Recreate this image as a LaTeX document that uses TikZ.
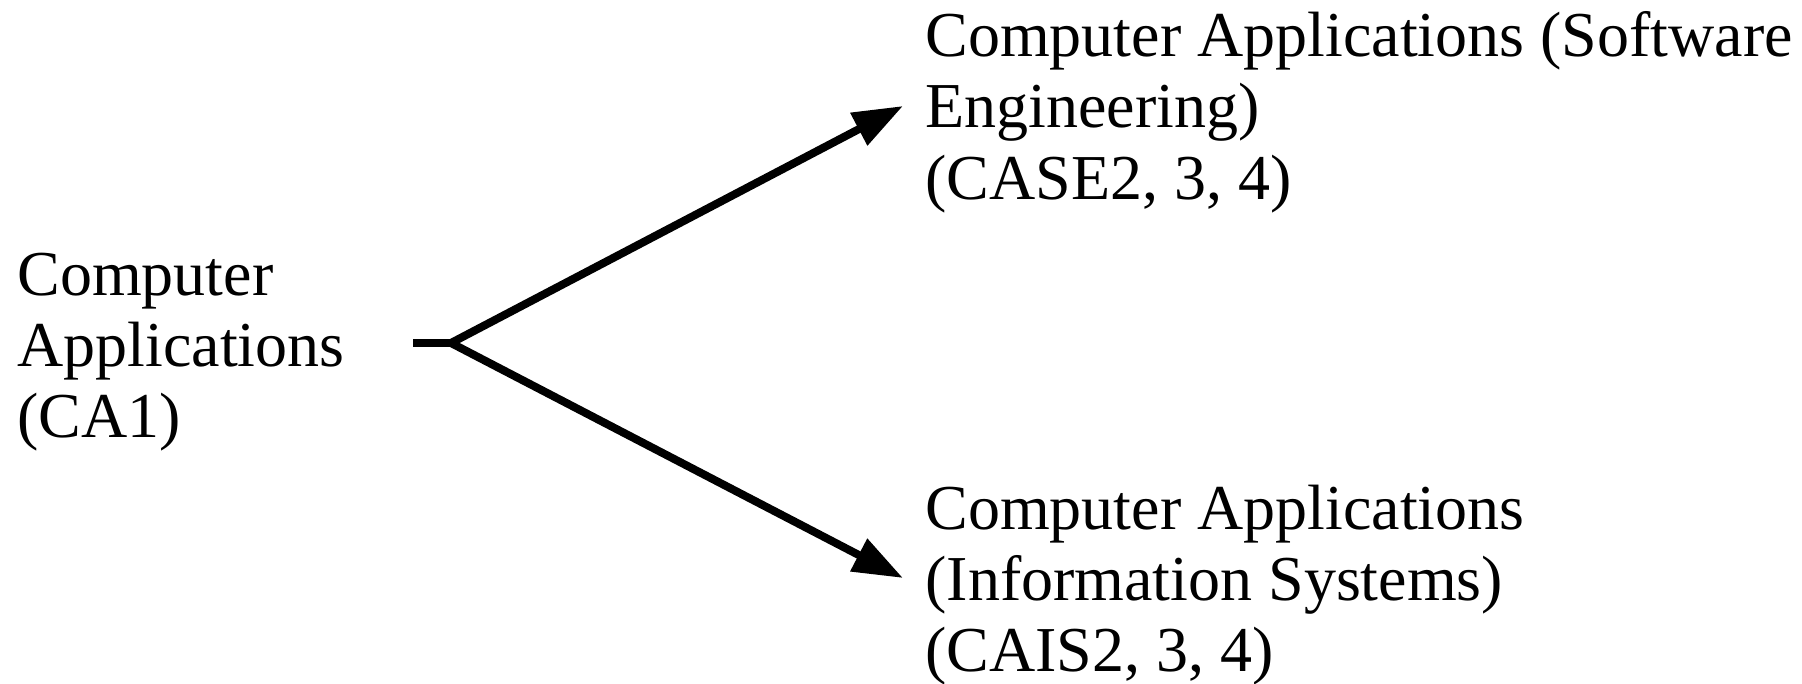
\documentclass[tikz,border=0pt]{standalone}
\usepackage{fontspec}
\setmainfont{Liberation Serif}
\usetikzlibrary{arrows.meta}
\begin{document}
\begin{tikzpicture}[x=0.5pt,y=-0.5pt,
  lbl/.style={anchor=base west, inner sep=0pt, font=\fontsize{32pt}{35.5pt}\selectfont},
  stub/.style={line width=4pt, line cap=butt},
  link/.style={line width=4pt, -{Triangle[length=25pt,width=17.5pt]}}]
\useasboundingbox (0,0) rectangle (1802,684);
% left block
\node[lbl] (ca1a) at (17,295) {Computer};
\node[lbl] (ca1b) at (17,366) {Applications};
\node[lbl] (ca1c) at (17,437) {(CA1)};
% upper right block
\node[lbl] (se1) at (925,57) {Computer Applications (Software};
\node[lbl] (se2) at (925,128) {Engineering)};
\node[lbl] (se3) at (925,199) {(CASE2, 3, 4)};
% lower right block
\node[lbl] (is1) at (925,529) {Computer Applications};
\node[lbl] (is2) at (925,600) {(Information Systems)};
\node[lbl] (is3) at (925,671) {(CAIS2, 3, 4)};
% connectors
\coordinate (stubL) at (413,343);
\coordinate (split) at (451,343);
\coordinate (tipA) at (903,106);
\coordinate (tipB) at (903,578);
\draw[stub] (stubL) -- (split);
\draw[link] (split) -- (tipA);
\draw[link] (split) -- (tipB);
\end{tikzpicture}
\end{document}
